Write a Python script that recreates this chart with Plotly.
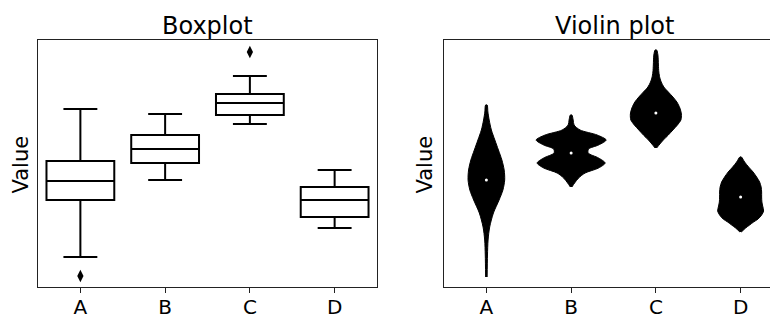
import numpy as np
import plotly.graph_objects as go

categories = ["A", "B", "C", "D"]
positions = [0, 1, 2, 3]

# Boxplot statistics (arbitrary value units)
box_upper = [17.8, 17.3, 21.1, 11.7]
box_q3 = [12.6, 15.2, 19.3, 10.0]
box_median = [10.6, 13.8, 18.4, 8.7]
box_q1 = [8.7, 12.4, 17.2, 7.0]
box_lower = [3.0, 10.7, 16.3, 5.9]
outlier_cat = [0, 2]
outlier_val = [1.1, 23.5]

# Violin density profiles: value levels and half-widths (category units)
vio_A_y = [1.0, 3.2, 4.7, 6.0, 7.4, 8.7, 9.7, 10.7, 11.7, 12.7, 13.7, 14.7, 15.7, 16.7, 17.5, 18.2]
vio_A_w = [0.009, 0.013, 0.020, 0.039, 0.083, 0.150, 0.195, 0.216, 0.210, 0.183, 0.142, 0.100, 0.059, 0.033, 0.018, 0.009]
vio_B_y = [10.0, 10.4, 10.9, 11.4, 11.9, 12.4, 12.9, 13.4, 13.8, 14.2, 14.7, 15.2, 15.7, 16.2, 16.7, 17.2]
vio_B_w = [0.009, 0.041, 0.088, 0.165, 0.324, 0.401, 0.324, 0.201, 0.206, 0.324, 0.413, 0.307, 0.106, 0.035, 0.024, 0.009]
vio_C_y = [13.9, 14.3, 14.7, 15.2, 15.7, 16.2, 16.7, 17.3, 17.9, 18.5, 19.0, 19.5, 20.0, 20.5, 20.9, 21.5, 22.2, 23.2, 23.7]
vio_C_w = [0.009, 0.047, 0.088, 0.147, 0.201, 0.254, 0.295, 0.301, 0.283, 0.248, 0.201, 0.147, 0.094, 0.063, 0.047, 0.035, 0.030, 0.024, 0.009]
vio_D_y = [5.5, 5.9, 6.2, 6.5, 6.8, 7.2, 7.6, 8.1, 8.5, 9.0, 9.5, 10.0, 10.5, 11.0, 11.5, 12.0, 12.5, 13.0]
vio_D_w = [0.009, 0.059, 0.106, 0.153, 0.206, 0.248, 0.271, 0.260, 0.251, 0.248, 0.248, 0.242, 0.224, 0.189, 0.147, 0.094, 0.047, 0.009]
vio_median = [10.7, 13.4, 17.4, 9.0]

violins = [(vio_A_y, vio_A_w), (vio_B_y, vio_B_w), (vio_C_y, vio_C_w), (vio_D_y, vio_D_w)]

W, H = 770, 314
FONT = "DejaVu Sans"


def fx(sx):
    return sx / W


def fy(sy):
    return (H - sy) / H


fig = go.Figure()

fig.add_trace(go.Box(
    x=positions, q1=box_q1, median=box_median, q3=box_q3,
    lowerfence=box_lower, upperfence=box_upper,
    width=0.8, whiskerwidth=0.5, fillcolor="white",
    line=dict(color="black", width=2), boxpoints=False,
    xaxis="x", yaxis="y", showlegend=False, hoverinfo="skip"))

fig.add_trace(go.Scatter(
    x=outlier_cat, y=outlier_val, mode="markers",
    marker=dict(symbol="diamond-tall", size=9, color="black"),
    xaxis="x", yaxis="y", showlegend=False, hoverinfo="skip"))

for pos, (vy, vw) in zip(positions, violins):
    vy = np.array(vy)
    vw = np.array(vw)
    xs = np.concatenate([pos + vw, pos - vw[::-1]])
    ys = np.concatenate([vy, vy[::-1]])
    fig.add_trace(go.Scatter(
        x=xs, y=ys, mode="lines", fill="toself", fillcolor="black",
        line=dict(color="black", width=1, shape="spline", smoothing=0.8),
        xaxis="x2", yaxis="y2", showlegend=False, hoverinfo="skip"))

fig.add_trace(go.Scatter(
    x=positions, y=vio_median, mode="markers",
    marker=dict(size=3, color="white"),
    xaxis="x2", yaxis="y2", showlegend=False, hoverinfo="skip"))

px_per_cat = 339 / 4.0
left_dom = [fx(38), fx(377)]
right_dom = [fx(444), 1.0]
right_max = -0.5 + (770 - 444) / px_per_cat
ydom = [fy(287), fy(40)]

axis_common = dict(
    showgrid=False, zeroline=False, showline=True, linecolor="#222222",
    linewidth=1.2, automargin=False,
)
xcommon = dict(axis_common, tickvals=positions, ticktext=categories,
               ticks="outside", ticklen=5, tickwidth=1.2, tickcolor="#222222",
               ticklabelstandoff=-3,
               tickfont=dict(family=FONT, size=20, color="black"), mirror=True)
ycommon = dict(axis_common, showticklabels=False, ticks="", range=[0, 24.7])

fig.update_layout(
    width=W, height=H,
    margin=dict(l=0, r=0, t=0, b=0, autoexpand=False),
    paper_bgcolor="white", plot_bgcolor="white",
    xaxis=dict(xcommon, domain=left_dom, range=[-0.5, 3.5], anchor="y"),
    yaxis=dict(ycommon, domain=ydom, anchor="x", mirror=True),
    xaxis2=dict(xcommon, domain=right_dom, range=[-0.5, right_max], anchor="y2"),
    yaxis2=dict(ycommon, domain=ydom, anchor="x2", mirror=False),
    annotations=[
        dict(text="Boxplot", x=fx(207.5), y=fy(41.5), xref="paper", yref="paper",
             xanchor="center", yanchor="bottom", showarrow=False,
             font=dict(family=FONT, size=24, color="black")),
        dict(text="Violin plot", x=fx(614), y=fy(41.5), xref="paper", yref="paper",
             xanchor="center", yanchor="bottom", showarrow=False,
             font=dict(family=FONT, size=24, color="black")),
        dict(text="Value", x=fx(21), y=fy(164.5), xref="paper", yref="paper",
             xanchor="center", yanchor="middle", showarrow=False, textangle=-90,
             font=dict(family=FONT, size=21, color="black")),
        dict(text="Value", x=fx(425), y=fy(164.5), xref="paper", yref="paper",
             xanchor="center", yanchor="middle", showarrow=False, textangle=-90,
             font=dict(family=FONT, size=21, color="black")),
    ],
)

fig.write_html(
    "out.html",
    config={"displayModeBar": False},
    post_script="document.body.style.margin='0';document.body.style.overflow='hidden';"
                "document.documentElement.style.overflow='hidden';",
)
